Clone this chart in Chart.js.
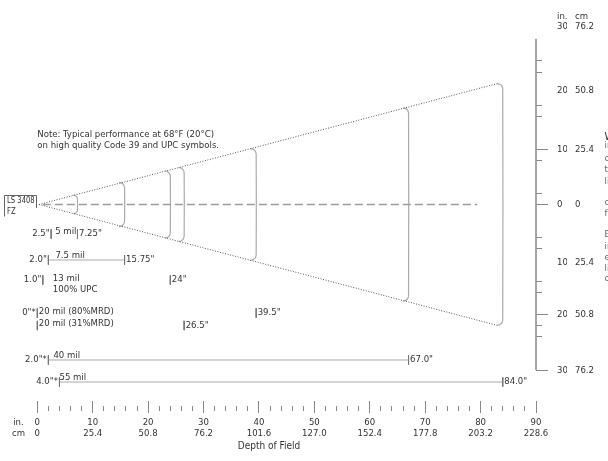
<!DOCTYPE html>
<html><head><meta charset="utf-8">
<script src="https://cdn.jsdelivr.net/npm/chart.js@4/dist/chart.umd.min.js"></script>
<style>html,body{margin:0;padding:0;background:#fff;overflow:hidden}</style>
</head><body>
<canvas id="c" width="608" height="461"></canvas>
<script>
const FONT = "'Liberation Sans Narrow','DejaVu Sans Condensed',Roboto,sans-serif";

// ---- bottom axis (depth of field, inches) ----
const xMajorTicks = [0,10,20,30,40,50,60,70,80,90];
const xMajorLabelsIn = ['0','10','20','30','40','50','60','70','80','90'];
const xMajorLabelsCm = ['0','25.4','50.8','76.2','101.6','127.0','152.4','177.8','203.2','228.6'];
const xMinorTicks = [2,4,6,8,12,14,16,18,22,24,26,28,32,34,36,38,42,44,46,48,52,54,56,58,62,64,66,68,72,74,76,78,82,84,86,88];
const xUnitLabelAt = -3.4;
const xUnitLabels = ['in.','cm'];
const xTitle = 'Depth of Field';

// ---- right axis (width of field, inches) ----
const wMajorTicks = [10,0,-20,-30];
const wMinorTicks = [26,24,18,16,8,2,-6,-8,-14,-16,-22,-24];
const wLabelAt = [32.2,20.7,10,0,-10.6,-20,-30];
const wLabelsIn = ['30','20','10','0','10','20','30'];
const wLabelsCm = ['76.2','50.8','25.4','0','25.4','50.8','76.2'];
const wUnitAt = 34.0;
const wUnitIn = 'in.';
const wUnitCm = 'cm';
const wAxisSpan = [30,-30];

// ---- scan beam ----
const beamApex = [0.3, 0];
const beamEnd = [83, 21.9];
const centerLine = [1.0, 79.4];
const arcsX = [7.25, 15.75, 24, 26.5, 39.5, 67, 84];
const arcsHalf = [1.9, 4.2, 6.3, 6.9, 10.3, 17.7, 22.1];

// ---- symbol ranges ----
const rowNames = ['5 mil','7.5 mil',['13 mil','100% UPC'],'20 mil (80%MRD)','20 mil (31%MRD)','40 mil','55 mil'];
const rowNear = [2.5, 2.0, 1.0, 0, 0, 2.0, 4.0];
const rowFar = [7.25, 15.75, 24, 39.5, 26.5, 67.0, 84.0];
const rowNearText = ['2.5"','2.0"','1.0"','0"*','','2.0"*','4.0"*'];
const rowFarText = ['7.25"','15.75"','24"','39.5"','26.5"','67.0"','84.0"'];
const rowLevel = [-5.34, -10.05, -13.68, -19.66, -21.92, -28.17, -32.16];
const rowHasLine = [false, true, false, false, false, true, true];

const noteLines = ['Note: Typical performance at 68\u00B0F (20\u00B0C)','on high quality Code 39 and UPC symbols.'];
const scannerLines = ['LS 3408','FZ'];
const sideLines = ['Width of Field','in inches','cm','to','limits','center','from','Each','in','edge','limits','code'];

// ---- layout constants (styling only) ----
const labelOffsetPx = [4, 7, 10, 1.5, 1.5, 5, 0];
const sideY = [137,146,159,170,182,203,214,235,247,258,269,279];

const datasets = [];
function line(points, color, width, dash, extra) {
  datasets.push(Object.assign({
    data: points.map(p => ({x: p[0], y: p[1]})),
    showLine: true, pointRadius: 0, borderColor: color, borderWidth: width,
    borderDash: dash || [], fill: false, tension: 0, yAxisID: 'y', xAxisID: 'x'
  }, extra || {}));
}
// beam edges
line([beamApex, [beamEnd[0], beamEnd[1]]], '#555', 1, [1, 1.6]);
line([beamApex, [beamEnd[0], -beamEnd[1]]], '#555', 1, [1, 1.6]);
// center line
line([[centerLine[0], 0], [centerLine[1], 0]], '#9c9c9c', 1.5, [8, 4]);
// range arcs
arcsX.forEach((a, i) => {
  const h = arcsHalf[i];
  const r = Math.min(1.0, h * 0.4);
  const pts = [
    [a - r, h - 0.2], [a - r * 0.5, h - 0.2 - r * 0.13], [a - r * 0.13, h - 0.2 - r * 0.5], [a, h - 0.2 - r],
    [a, -(h - 0.2 - r)], [a - r * 0.13, -(h - 0.2 - r * 0.5)], [a - r * 0.5, -(h - 0.2 - r * 0.13)], [a - r, -(h - 0.2)]
  ];
  line(pts, '#aaaaaa', 1.2, [], {tension: 0.3});
});
// right axis line
line([[90, wAxisSpan[0]], [90, wAxisSpan[1]]], '#999', 1, [], {clip: false});
// range rows
const barHalf = 0.85;
rowLevel.forEach((lv, i) => {
  line([[rowNear[i], lv + barHalf], [rowNear[i], lv - barHalf]], '#777', 1, []);
  line([[rowFar[i], lv + barHalf], [rowFar[i], lv - barHalf]], '#777', 1, [], {clip: false});
  if (rowHasLine[i]) line([[rowNear[i], lv], [rowFar[i], lv]], '#aaaaaa', 1, []);
});

const textPlugin = {
  id: 'texts',
  afterDatasetsDraw(chart) {
    const ctx = chart.ctx;
    const X = v => chart.scales.x.getPixelForValue(v);
    const Y = v => chart.scales.y.getPixelForValue(v);
    ctx.save();
    ctx.fillStyle = '#333';
    ctx.font = '9.5px ' + FONT;
    ctx.textBaseline = 'middle';
    ctx.textAlign = 'left';
    // note
    ctx.fillText(noteLines[0], X(0), 135);
    ctx.fillText(noteLines[1], X(0), 146);
    // scanner box
    ctx.strokeStyle = '#666'; ctx.lineWidth = 1;
    ctx.beginPath();
    ctx.moveTo(4.5, 216.5); ctx.lineTo(4.5, 195.5); ctx.lineTo(36.5, 195.5); ctx.lineTo(36.5, 208);
    ctx.stroke();
    ctx.save();
    ctx.translate(7, 0);
    ctx.scale(0.8, 1);
    ctx.fillText(scannerLines[0], 0, 201);
    ctx.fillText(scannerLines[1], 0, 212);
    ctx.restore();
    // rows
    rowLevel.forEach((lv, i) => {
      const yp = Y(lv);
      ctx.textBaseline = 'middle';
      ctx.textAlign = 'right';
      if (rowNearText[i]) ctx.fillText(rowNearText[i], X(rowNear[i]) - 1.5, yp);
      ctx.textAlign = 'left';
      ctx.fillText(rowFarText[i], X(rowFar[i]) + 1.5, yp);
      ctx.textBaseline = 'alphabetic';
      const names = Array.isArray(rowNames[i]) ? rowNames[i] : [rowNames[i]];
      const base = yp + (rowHasLine[i] ? -2 : 0.5);
      names.forEach((t, k) => ctx.fillText(t, X(rowNear[i]) + labelOffsetPx[i], base + k * 11));
    });
    // clipped side text
    ctx.textBaseline = 'middle';
    ctx.textAlign = 'left';
    sideLines.forEach((t, k) => {
      ctx.font = (k === 0 ? '11px ' : '9.5px ') + FONT;
      ctx.fillStyle = k === 0 ? '#333' : '#666';
      ctx.fillText(t, 604.5, sideY[k]);
    });
    ctx.restore();
  }
};

const xAllTicks = [xUnitLabelAt].concat(xMajorTicks, xMinorTicks);
const wAllTicks = [wUnitAt];
[...wLabelAt, ...wMajorTicks, ...wMinorTicks].forEach(v => { if (!wAllTicks.includes(v)) wAllTicks.push(v); });

const yMin = -35.6, yMax = 34.33;

new Chart(document.getElementById('c'), {
  type: 'scatter',
  data: { datasets },
  plugins: [textPlugin],
  options: {
    responsive: false,
    animation: false,
    events: [],
    layout: { padding: { left: 2, top: 15, right: 0, bottom: 0 } },
    plugins: { legend: { display: false }, tooltip: { enabled: false }, title: { display: false } },
    scales: {
      x: {
        type: 'linear', position: 'bottom', min: -6.37, max: 90,
        border: { display: false },
        grid: {
          display: true, drawOnChartArea: false, drawTicks: true, tickLength: 12, tickWidth: 1,
          tickColor: c => (c.tick && c.tick.value === xUnitLabelAt) ? 'rgba(0,0,0,0)' : '#888',
          tickBorderDash: c => (c.tick && xMajorTicks.includes(c.tick.value)) ? [] : [0, 5, 5, 100]
        },
        ticks: {
          autoSkip: false, maxRotation: 0, minRotation: 0, padding: 4.5, color: '#333',
          font: { family: FONT, size: 9.5, lineHeight: 11 / 9.5 },
          callback: v => {
            if (v === xUnitLabelAt) return xUnitLabels;
            const i = xMajorTicks.indexOf(v);
            return i >= 0 ? [xMajorLabelsIn[i], xMajorLabelsCm[i]] : '';
          }
        },
        title: { display: true, text: xTitle, color: '#333', font: { family: FONT, size: 10 }, padding: { top: 0, bottom: 9 } },
        afterBuildTicks: s => { s.ticks = xAllTicks.map(v => ({ value: v })); },
        afterFit: s => { s.height = 60; }
      },
      y: {
        type: 'linear', position: 'right', min: yMin, max: yMax, weight: 0,
        border: { display: false },
        grid: {
          display: true, drawOnChartArea: false, drawTicks: true, tickLength: 12, tickWidth: 1,
          tickColor: c => {
            if (!c.tick) return '#888';
            const v = c.tick.value;
            return (wMajorTicks.includes(v) || wMinorTicks.includes(v)) ? '#888' : 'rgba(0,0,0,0)';
          },
          tickBorderDash: c => (c.tick && wMinorTicks.includes(c.tick.value)) ? [6, 100] : []
        },
        ticks: {
          autoSkip: false, padding: 9, color: '#333',
          font: { family: FONT, size: 9.5, lineHeight: 1.2 },
          callback: v => {
            if (v === wUnitAt) return wUnitIn;
            const i = wLabelAt.indexOf(v);
            return i >= 0 ? wLabelsIn[i] : '';
          }
        },
        afterBuildTicks: s => { s.ticks = wAllTicks.map(v => ({ value: v })); },
        afterFit: s => { s.width = 31; }
      },
      y2: {
        type: 'linear', position: 'right', min: yMin, max: yMax, weight: 1,
        border: { display: false },
        grid: { display: false, drawTicks: false, drawOnChartArea: false },
        ticks: {
          autoSkip: false, padding: 8, color: '#333',
          font: { family: FONT, size: 9.5, lineHeight: 1.2 },
          callback: v => {
            if (v === wUnitAt) return wUnitCm;
            const i = wLabelAt.indexOf(v);
            return i >= 0 ? wLabelsCm[i] : '';
          }
        },
        afterBuildTicks: s => { s.ticks = [wUnitAt].concat(wLabelAt).map(v => ({ value: v })); },
        afterFit: s => { s.width = 41; }
      }
    }
  }
});
</script>
</body></html>
